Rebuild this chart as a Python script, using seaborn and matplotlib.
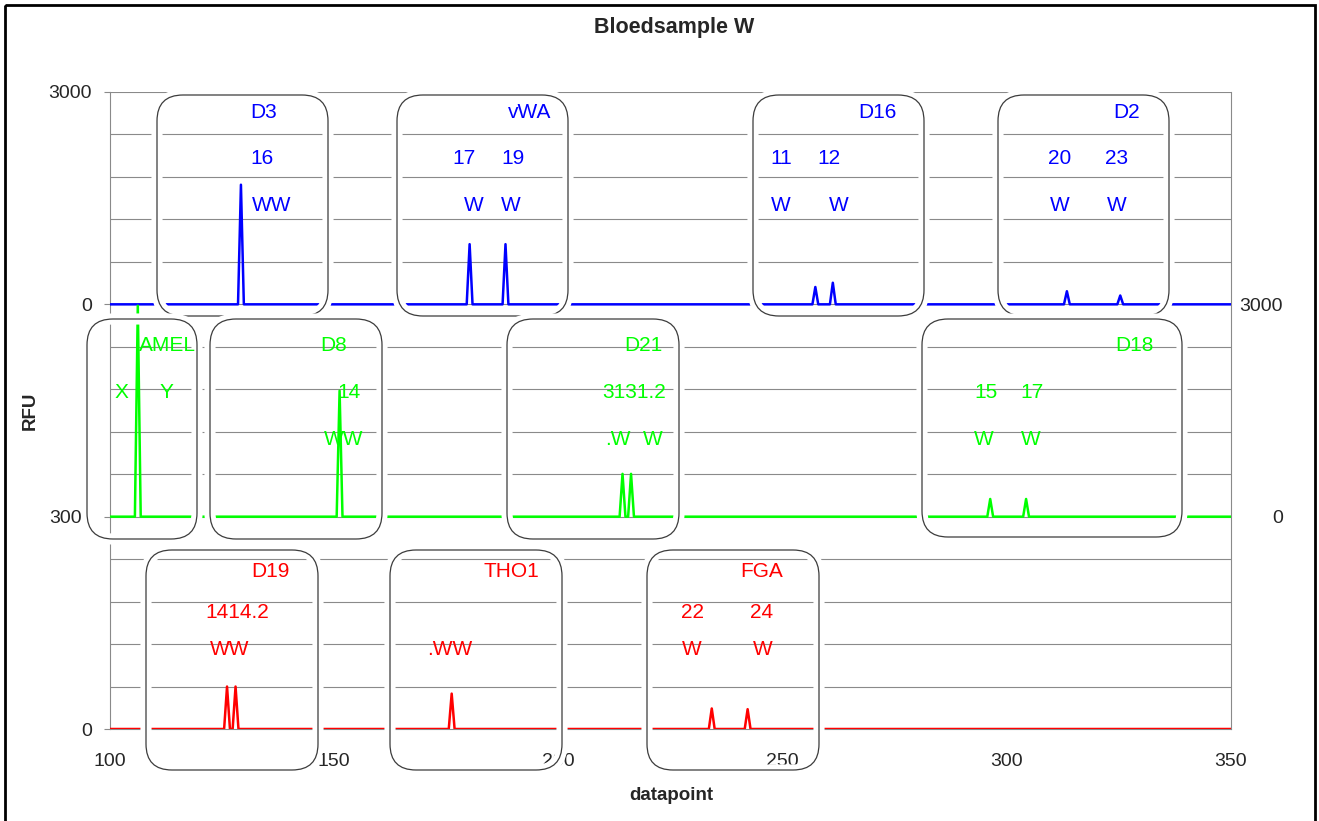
import numpy as np
import pandas as pd
import matplotlib
matplotlib.use("Agg")
import matplotlib.pyplot as plt
import seaborn as sns
from matplotlib.patches import FancyBboxPatch, Rectangle
from matplotlib.transforms import Affine2D, ScaledTranslation
import matplotlib.patheffects as pe

# ---------------- data ----------------
title = "Bloedsample W"
x_label = "datapoint"
y_label = "RFU"

blue_peaks = [129.2, 180.2, 188.2, 257.3, 261.2, 313.4, 325.3]
blue_rfu = [1690, 850, 850, 245, 305, 185, 125]
green_peaks = [106.2, 151.2, 214.3, 216.2, 296.3, 304.3]
green_rfu = [2980, 1780, 605, 605, 250, 250]
red_peaks = [126.1, 128.0, 176.2, 234.2, 242.2]
red_rfu = [60, 60, 50, 29, 28]

x_ticks = [100, 150, 200, 250, 300, 350]
blue_ticks = [0, 3000]
green_ticks = [0, 3000]
red_ticks = [0, 300]

loci = ["D3", "vWA", "D16", "D2", "AMEL", "D8", "D21", "D18", "D19", "THO1", "FGA"]
locus_dye = ["blue"] * 4 + ["green"] * 4 + ["red"] * 3
allele_labels = [["16"], ["17", "19"], ["11", "12"], ["20", "23"], ["X", "Y"], ["14"],
                 ["3131.2"], ["15", "17"], ["1414.2"], [], ["22", "24"]]
call_labels = [["WW"], ["W", "W"], ["W", "W"], ["W", "W"], [], ["WW"],
               [".W", "W"], ["W", "W"], ["WW"], [".WW"], ["W", "W"]]

# ---------------- layout (pixels, top-left origin) ----------------
W, H = 1319, 821
dye_colors = {"blue": "#0000FF", "green": "#00FF00", "red": "#FF0000"}
row_baselines = {"blue": (118, 164, 211), "green": (351, 398, 445), "red": (577, 618, 655)}
box_px = [(157, 95, 328, 316), (397, 95, 568, 316), (753, 95, 924, 316), (998, 95, 1169, 316),
          (87, 319, 197, 539), (210, 319, 382, 539), (507, 319, 679, 539), (922, 319, 1182, 537),
          (146, 550, 318, 770), (390, 550, 562, 770), (647, 550, 819, 770)]
name_x = [264, 530, 877, 1127, 167, 334, 643, 1134, 270, 511, 762]
allele_x = [[262], [464, 513], [781, 829], [1060, 1117], [121, 166], [349], [634], [986, 1032],
            [237], [], [692, 762]]
call_x = [[272], [474, 511], [781, 839], [1060, 1117], [], [344], [618, 653], [984, 1031],
          [230], [450], [692, 763]]

sns.set_style("white")
plt.rcParams["font.family"] = ["Liberation Sans", "DejaVu Sans"]

fig = plt.figure(figsize=(W / 100, H / 100), dpi=100)
pxT = Affine2D().scale(1 / W, -1 / H).translate(0, 1) + fig.transFigure

ax = fig.add_axes([110 / W, 1 - 729 / H, (1231 - 110) / W, (729 - 92) / H])
ax_blue = ax.twinx()
ax_green = ax.twinx()


def trace(peaks, rfu, half=0.65):
    xs, ys = [100.0], [0.0]
    for p, h in zip(peaks, rfu):
        xs += [p - half, p, p + half]
        ys += [0.0, h, 0.0]
    xs.append(350.0)
    ys.append(0.0)
    return pd.DataFrame({"datapoint": xs, "RFU": ys})


for a, pk, rf, col in [(ax, red_peaks, red_rfu, "red"),
                       (ax_blue, blue_peaks, blue_rfu, "blue"),
                       (ax_green, green_peaks, green_rfu, "green")]:
    sns.lineplot(data=trace(pk, rf), x="datapoint", y="RFU", ax=a, color=dye_colors[col],
                 lw=1.8, sort=False, estimator=None, zorder=3)
    a.set_xlabel("")
    a.set_ylabel("")

ax.set_xlim(100, 350)
ax.set_ylim(0, 900)
ax_blue.set_ylim(-6000, 3000)
ax_green.set_ylim(-3000, 6000)

grid_c = "#8a8a8a"
for g in np.arange(60, 901, 60):
    ax.axhline(g, color=grid_c, lw=0.8, zorder=1)

for s in ["left", "bottom", "right"]:
    ax.spines[s].set_color(grid_c)
    ax.spines[s].set_linewidth(0.8)
ax.spines["top"].set_visible(False)
for a in (ax_blue, ax_green):
    for s in a.spines.values():
        s.set_visible(False)

ax.set_xticks(x_ticks)
ax.set_yticks(red_ticks)
ax.tick_params(axis="x", direction="out", length=5, width=0.8, color=grid_c, labelsize=14, pad=12)
ax.tick_params(axis="y", direction="out", length=4.3, width=0.8, color=grid_c, labelsize=14, pad=8.6)

ax_blue.yaxis.tick_left()
ax_blue.set_yticks(blue_ticks)
ax_blue.tick_params(axis="y", direction="out", length=4.3, width=0.8, color=grid_c, labelsize=14, pad=8.6)

ax_green.set_yticks(green_ticks)
ax_green.tick_params(axis="y", length=0, labelsize=14, pad=37.4)
for lbl in ax_green.get_yticklabels():
    lbl.set_horizontalalignment("right")

# the "300" label sits a little further left, clear of the AMEL box
lbl300 = ax.get_yticklabels()[1]
lbl300.set_transform(lbl300.get_transform() + ScaledTranslation(-10 / 100, 0, fig.dpi_scale_trans))

# rounded label boxes with white halo
for (x0, y0, x1, y1) in box_px:
    bx = FancyBboxPatch((x0, y0), x1 - x0, y1 - y0, boxstyle="round,pad=0,rounding_size=26",
                        transform=pxT, facecolor="none", edgecolor="#3c3c3c", lw=0.9, zorder=5,
                        path_effects=[pe.Stroke(linewidth=8, foreground="white"), pe.Normal()])
    fig.add_artist(bx)

# texts
for i, loc in enumerate(loci):
    col = dye_colors[locus_dye[i]]
    r0, r1, r2 = row_baselines[locus_dye[i]]
    kw = dict(transform=pxT, color=col, fontsize=15, ha="center", va="baseline", zorder=6)
    fig.text(name_x[i], r0, loc, **kw)
    for s, xx in zip(allele_labels[i], allele_x[i]):
        fig.text(xx, r1, s, **kw)
    for s, xx in zip(call_labels[i], call_x[i]):
        fig.text(xx, r2, s, **kw)

fig.text(674, 27, title, transform=pxT, fontsize=15.5, fontweight="bold", ha="center", va="center")
fig.text(671, 795, x_label, transform=pxT, fontsize=13.5, fontweight="bold", ha="center", va="center")
fig.text(30, 411, y_label, transform=pxT, fontsize=13.5, fontweight="bold", ha="center", va="center",
         rotation=90)

fig.add_artist(Rectangle((5, 5), 1310, 850, transform=pxT, fill=False, ec="black", lw=2, zorder=7,
                         clip_on=False))

fig.savefig("out.png", dpi=100)
